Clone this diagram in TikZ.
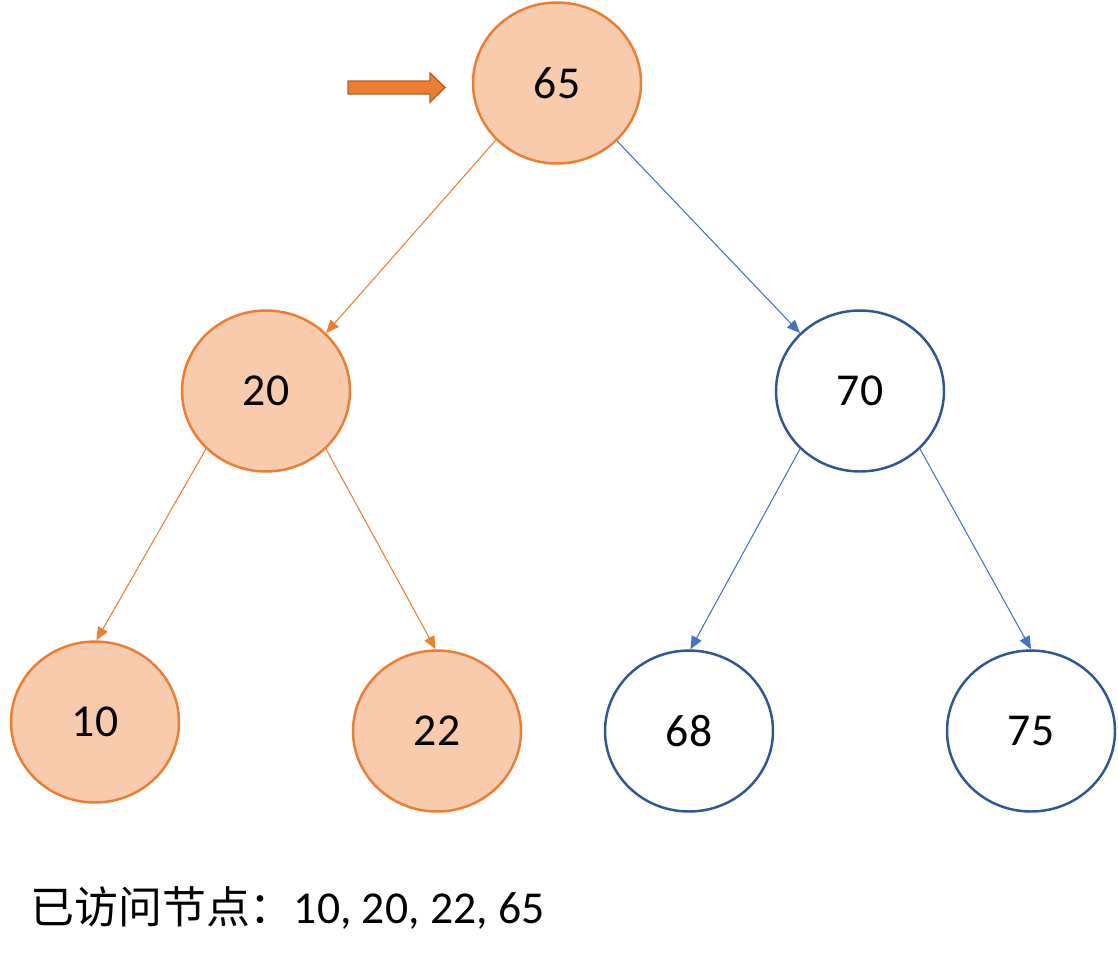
\documentclass[tikz,border=0pt]{standalone}
\usepackage{fontspec}
\setmainfont{Carlito}
\newfontfamily\cjk{Noto Sans CJK SC}
\usetikzlibrary{arrows.meta,shapes.geometric}
\definecolor{visitLine}{HTML}{ED7D31}
\definecolor{visitFill}{HTML}{F8CBAD}
\definecolor{openLine}{HTML}{2F5597}
\definecolor{openEdge}{HTML}{4472C4}
\definecolor{markLine}{HTML}{B85F24}
\begin{document}
\begin{tikzpicture}[
  x=0.02cm, y=-0.02cm,
  every node/.style={align=center, inner sep=0pt},
  nodeV/.style={ellipse, draw=visitLine, line width=1.4pt, fill=visitFill,
                minimum width=3.36cm, minimum height=3.22cm,
                font=\fontsize{26}{30}\selectfont},
  nodeO/.style={ellipse, draw=openLine, line width=1.4pt, fill=white,
                minimum width=3.36cm, minimum height=3.22cm,
                font=\fontsize{26}{30}\selectfont},
  edgeV/.style={draw=visitLine, line width=0.6pt,
                -{Triangle[length=0.26cm, width=0.22cm]}},
  edgeO/.style={draw=openEdge, line width=0.6pt,
                -{Triangle[length=0.26cm, width=0.22cm]}}
]
\useasboundingbox (0,0) rectangle (1118,960);

% ROW 1: ROOT
\node[nodeV] (n65) at (557,83) {65};
\fill[visitLine, draw=markLine, line width=0.8pt]
  (348,81) -- (430,81) -- (430,73) -- (445,87.5) -- (430,102) -- (430,94)
  -- (348,94) -- cycle;

% ROW 2
\node[nodeV] (n20) at (266,391) {20};
\node[nodeO] (n70) at (860,391) {70};

% ROW 3
\node[nodeV] (n10) at (95,722)   {10};
\node[nodeV] (n22) at (437,731)  {22};
\node[nodeO] (n68) at (689,731)  {68};
\node[nodeO] (n75) at (1031,731) {75};

% EDGES
\draw[edgeV] (n65.223) -- (n20.44);
\draw[edgeO] (n65.316) -- (n70.136);
\draw[edgeV] (n20.224) -- (n10.89);
\draw[edgeV] (n20.316) -- (n22.91);
\draw[edgeO] (n70.224) -- (n68.89);
\draw[edgeO] (n70.316) -- (n75.90);

% VISITED LIST
\node[anchor=base west, font=\fontsize{26}{30}\selectfont] (visited) at (30,923)
  {{\cjk\fontsize{25}{30}\selectfont 已访问节点：}10, 20, 22, 65};
\end{tikzpicture}
\end{document}
